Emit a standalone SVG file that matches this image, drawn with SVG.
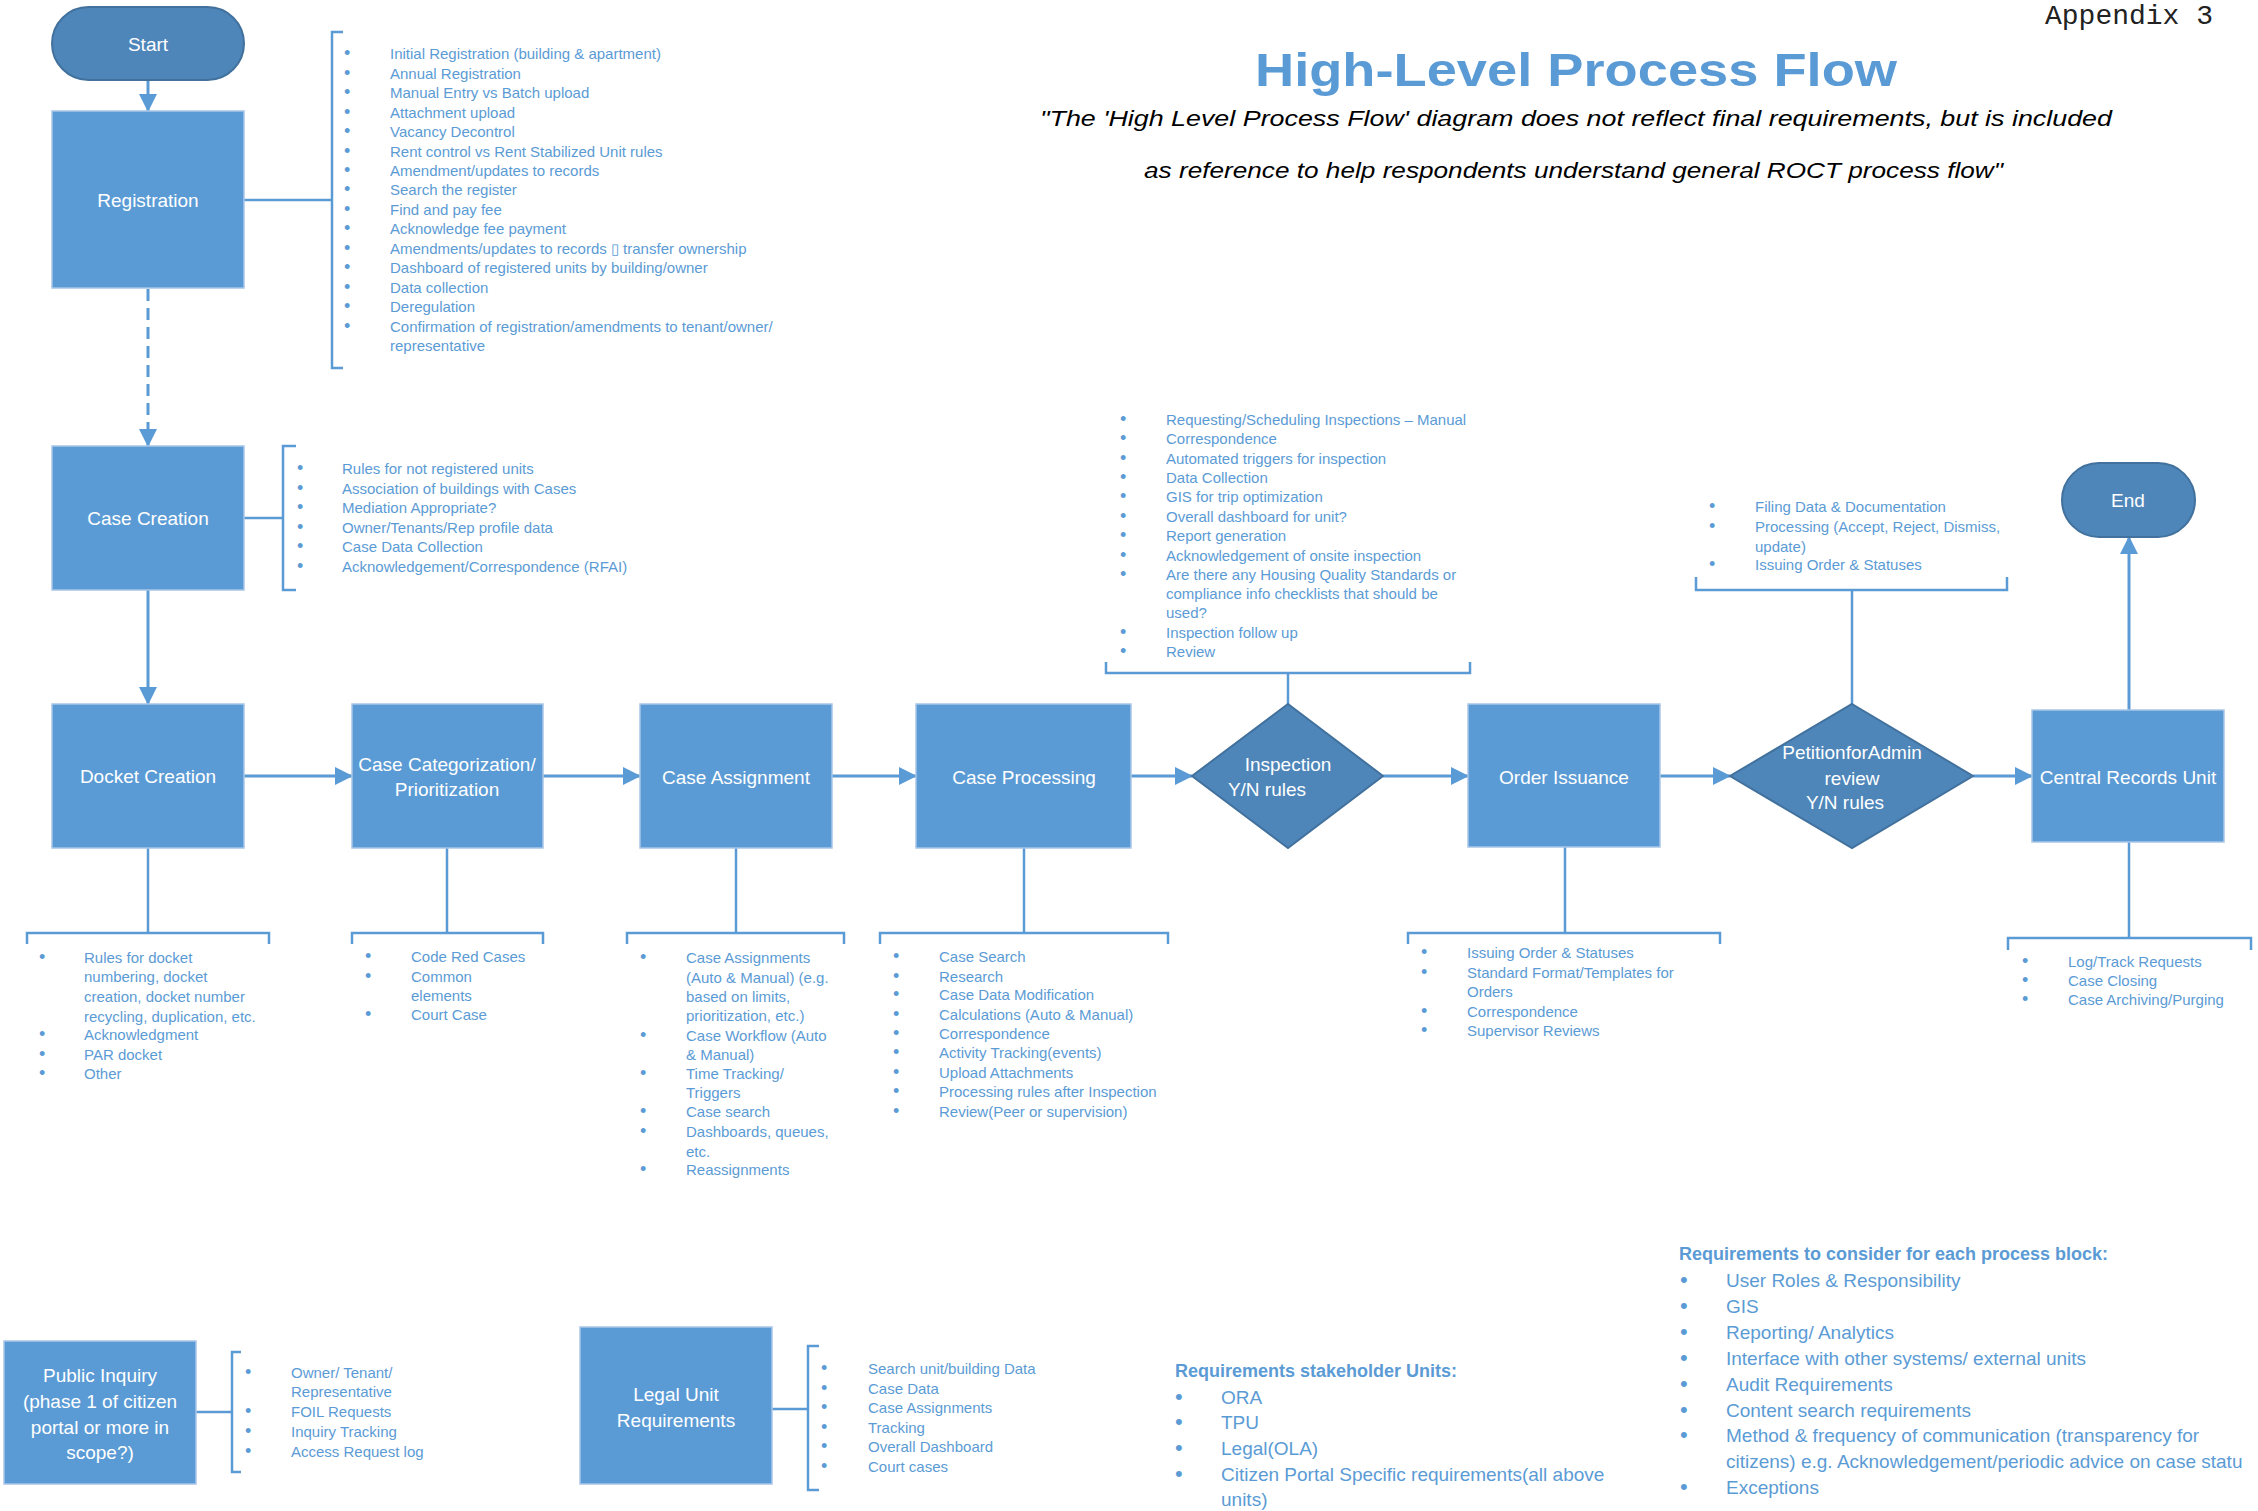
<svg xmlns="http://www.w3.org/2000/svg" width="2258" height="1511" viewBox="0 0 2258 1511">
<defs>
<style>
.box{fill:#5B9BD5;stroke:#A9C6E8;stroke-width:1.5}
.term{fill:#4E86BA;stroke:#41719C;stroke-width:2}
.lbl{font-family:"Liberation Sans",Arial,sans-serif;font-size:19px;fill:#FFFFFF;text-anchor:middle}
.li{font-family:"Liberation Sans",Arial,sans-serif;font-size:15px;fill:#5B9BD5}
.lib{font-family:"Liberation Sans",Arial,sans-serif;font-size:19px;fill:#5B9BD5}
.li .b{font-size:18px}
.lib .b{font-size:22px}
.hd{font-family:"Liberation Sans",Arial,sans-serif;font-size:18px;font-weight:bold;fill:#5B9BD5}
.conn{stroke:#5B9BD5;stroke-width:3;fill:none}
.br{stroke:#5B9BD5;stroke-width:2.5;fill:none}
</style>
<marker id="ah" markerUnits="userSpaceOnUse" markerWidth="18" markerHeight="18" refX="17" refY="9" orient="auto">
<path d="M0,0 L18,9 L0,18 z" fill="#5B9BD5"/>
</marker>
</defs>
<rect width="2258" height="1511" fill="#FFFFFF"/>

<g id="header">
<text x="2045" y="24" font-family="'Liberation Mono','Courier New',monospace" font-size="28" fill="#222">Appendix 3</text>
<text x="1255" y="86" font-family="'Liberation Sans',Arial,sans-serif" font-size="46" font-weight="bold" fill="#5B9BD5" textLength="642" lengthAdjust="spacingAndGlyphs">High-Level Process Flow</text>
<text x="1040" y="126" font-family="'Liberation Sans',Arial,sans-serif" font-size="22" font-style="italic" fill="#000" textLength="1072" lengthAdjust="spacingAndGlyphs">"The 'High Level Process Flow' diagram does not reflect final requirements, but  is included</text>
<text x="1144" y="178" font-family="'Liberation Sans',Arial,sans-serif" font-size="22" font-style="italic" fill="#000" textLength="859" lengthAdjust="spacingAndGlyphs">as reference to help respondents understand general ROCT process flow"</text>
</g>

<g id="connectors">
<line class="conn" x1="148" y1="80" x2="148" y2="111" marker-end="url(#ah)"/>
<line class="conn" x1="148" y1="289" x2="148" y2="446" stroke-dasharray="12 7" marker-end="url(#ah)"/>
<line class="conn" x1="148" y1="590" x2="148" y2="704" marker-end="url(#ah)"/>
<line class="conn" x1="244" y1="776" x2="352" y2="776" marker-end="url(#ah)"/>
<line class="conn" x1="543" y1="776" x2="640" y2="776" marker-end="url(#ah)"/>
<line class="conn" x1="832" y1="776" x2="916" y2="776" marker-end="url(#ah)"/>
<line class="conn" x1="1131" y1="776" x2="1192" y2="776" marker-end="url(#ah)"/>
<line class="conn" x1="1383" y1="776" x2="1468" y2="776" marker-end="url(#ah)"/>
<line class="conn" x1="1660" y1="776" x2="1730" y2="776" marker-end="url(#ah)"/>
<line class="conn" x1="1973" y1="776" x2="2032" y2="776" marker-end="url(#ah)"/>
<line class="conn" x1="2129" y1="710" x2="2129" y2="537" marker-end="url(#ah)"/>
<line class="br" x1="244" y1="200" x2="332" y2="200"/>
<line class="br" x1="244" y1="518" x2="283" y2="518"/>
<line class="br" x1="1288" y1="673" x2="1288" y2="704"/>
<line class="br" x1="1852" y1="590" x2="1852" y2="704"/>
<line class="br" x1="148" y1="848" x2="148" y2="933"/>
<line class="br" x1="447" y1="848" x2="447" y2="933"/>
<line class="br" x1="736" y1="848" x2="736" y2="933"/>
<line class="br" x1="1024" y1="848" x2="1024" y2="933"/>
<line class="br" x1="1565" y1="847" x2="1565" y2="933"/>
<line class="br" x1="2129" y1="842" x2="2129" y2="938"/>
<line class="br" x1="196" y1="1412" x2="232" y2="1412"/>
<line class="br" x1="772" y1="1409" x2="808" y2="1409"/>
<path class="br" d="M343,32 H332 V368 H343"/>
<path class="br" d="M296,446 H283 V590 H296"/>
<path class="br" d="M1106,662 V673 H1470 V662"/>
<path class="br" d="M1696,577 V590 H2007 V577"/>
<path class="br" d="M27,944 V933 H269 V944"/>
<path class="br" d="M352,944 V933 H543 V944"/>
<path class="br" d="M627,944 V933 H844 V944"/>
<path class="br" d="M880,944 V933 H1168 V944"/>
<path class="br" d="M1408,944 V933 H1720 V944"/>
<path class="br" d="M2008,950 V938 H2251 V950"/>
<path class="br" d="M241,1352 H232 V1472 H241"/>
<path class="br" d="M819,1346 H808 V1490 H819"/>
</g>

<g id="start">
<rect class="term" x="52" y="7" width="192" height="73" rx="36.5"/>
<text class="lbl" x="148" y="51">Start</text>
</g>

<g id="registration">
<rect class="box" x="52" y="111" width="192" height="177"/>
<text class="lbl" x="148" y="207">Registration</text>
</g>

<g id="registration-list">
<text class="li">
<tspan class="b" x="344" y="59">•</tspan><tspan x="390" y="59">Initial Registration (building &amp; apartment)</tspan>
<tspan class="b" x="344" y="79">•</tspan><tspan x="390" y="79">Annual Registration</tspan>
<tspan class="b" x="344" y="98">•</tspan><tspan x="390" y="98">Manual Entry vs Batch upload</tspan>
<tspan class="b" x="344" y="118">•</tspan><tspan x="390" y="118">Attachment upload</tspan>
<tspan class="b" x="344" y="137">•</tspan><tspan x="390" y="137">Vacancy Decontrol</tspan>
<tspan class="b" x="344" y="157">•</tspan><tspan x="390" y="157">Rent control vs Rent Stabilized Unit rules</tspan>
<tspan class="b" x="344" y="176">•</tspan><tspan x="390" y="176">Amendment/updates to records</tspan>
<tspan class="b" x="344" y="195">•</tspan><tspan x="390" y="195">Search the register</tspan>
<tspan class="b" x="344" y="215">•</tspan><tspan x="390" y="215">Find and pay fee</tspan>
<tspan class="b" x="344" y="234">•</tspan><tspan x="390" y="234">Acknowledge fee payment</tspan>
<tspan class="b" x="344" y="254">•</tspan><tspan x="390" y="254">Amendments/updates to records ▯ transfer ownership</tspan>
<tspan class="b" x="344" y="273">•</tspan><tspan x="390" y="273">Dashboard of registered units by building/owner</tspan>
<tspan class="b" x="344" y="293">•</tspan><tspan x="390" y="293">Data collection</tspan>
<tspan class="b" x="344" y="312">•</tspan><tspan x="390" y="312">Deregulation</tspan>
<tspan class="b" x="344" y="332">•</tspan><tspan x="390" y="332">Confirmation of registration/amendments  to tenant/owner/</tspan>
<tspan x="390" y="351">representative</tspan>
</text>
</g>

<g id="case-creation">
<rect class="box" x="52" y="446" width="192" height="144"/>
<text class="lbl" x="148" y="525">Case Creation</text>
</g>

<g id="case-creation-list">
<text class="li">
<tspan class="b" x="297" y="474">•</tspan><tspan x="342" y="474">Rules for not registered units</tspan>
<tspan class="b" x="297" y="494">•</tspan><tspan x="342" y="494">Association of buildings with Cases</tspan>
<tspan class="b" x="297" y="513">•</tspan><tspan x="342" y="513">Mediation Appropriate?</tspan>
<tspan class="b" x="297" y="533">•</tspan><tspan x="342" y="533">Owner/Tenants/Rep profile data</tspan>
<tspan class="b" x="297" y="552">•</tspan><tspan x="342" y="552">Case Data Collection</tspan>
<tspan class="b" x="297" y="572">•</tspan><tspan x="342" y="572">Acknowledgement/Correspondence (RFAI)</tspan>
</text>
</g>

<g id="docket-creation">
<rect class="box" x="52" y="704" width="192" height="144"/>
<text class="lbl" x="148" y="783">Docket Creation</text>
</g>
<g id="docket-list">
<text class="li">
<tspan class="b" x="39" y="963">•</tspan><tspan x="84" y="963">Rules for docket</tspan>
<tspan x="84" y="982">numbering, docket</tspan>
<tspan x="84" y="1002">creation, docket number</tspan>
<tspan x="84" y="1022">recycling, duplication, etc.</tspan>
<tspan class="b" x="39" y="1040">•</tspan><tspan x="84" y="1040">Acknowledgment</tspan>
<tspan class="b" x="39" y="1060">•</tspan><tspan x="84" y="1060">PAR docket</tspan>
<tspan class="b" x="39" y="1079">•</tspan><tspan x="84" y="1079">Other</tspan>
</text>
</g>

<g id="case-categorization">
<rect class="box" x="352" y="704" width="191" height="144"/>
<text class="lbl" x="447" y="771">Case Categorization/</text>
<text class="lbl" x="447" y="796">Prioritization</text>
</g>
<g id="categorization-list">
<text class="li">
<tspan class="b" x="365" y="962">•</tspan><tspan x="411" y="962">Code Red Cases</tspan>
<tspan class="b" x="365" y="982">•</tspan><tspan x="411" y="982">Common</tspan>
<tspan x="411" y="1001">elements</tspan>
<tspan class="b" x="365" y="1020">•</tspan><tspan x="411" y="1020">Court Case</tspan>
</text>
</g>

<g id="case-assignment">
<rect class="box" x="640" y="704" width="192" height="144"/>
<text class="lbl" x="736" y="784">Case Assignment</text>
</g>
<g id="assignment-list">
<text class="li">
<tspan class="b" x="640" y="963">•</tspan><tspan x="686" y="963">Case Assignments</tspan>
<tspan x="686" y="983">(Auto &amp; Manual) (e.g.</tspan>
<tspan x="686" y="1002">based on limits,</tspan>
<tspan x="686" y="1021">prioritization, etc.)</tspan>
<tspan class="b" x="640" y="1041">•</tspan><tspan x="686" y="1041">Case Workflow (Auto</tspan>
<tspan x="686" y="1060">&amp; Manual)</tspan>
<tspan class="b" x="640" y="1079">•</tspan><tspan x="686" y="1079">Time Tracking/</tspan>
<tspan x="686" y="1098">Triggers</tspan>
<tspan class="b" x="640" y="1117">•</tspan><tspan x="686" y="1117">Case search</tspan>
<tspan class="b" x="640" y="1137">•</tspan><tspan x="686" y="1137">Dashboards, queues,</tspan>
<tspan x="686" y="1157">etc.</tspan>
<tspan class="b" x="640" y="1175">•</tspan><tspan x="686" y="1175">Reassignments</tspan>
</text>
</g>

<g id="case-processing">
<rect class="box" x="916" y="704" width="215" height="144"/>
<text class="lbl" x="1024" y="784">Case Processing</text>
</g>
<g id="processing-list">
<text class="li">
<tspan class="b" x="893" y="962">•</tspan><tspan x="939" y="962">Case Search</tspan>
<tspan class="b" x="893" y="982">•</tspan><tspan x="939" y="982">Research</tspan>
<tspan class="b" x="893" y="1000">•</tspan><tspan x="939" y="1000">Case Data Modification</tspan>
<tspan class="b" x="893" y="1020">•</tspan><tspan x="939" y="1020">Calculations (Auto &amp; Manual)</tspan>
<tspan class="b" x="893" y="1039">•</tspan><tspan x="939" y="1039">Correspondence</tspan>
<tspan class="b" x="893" y="1058">•</tspan><tspan x="939" y="1058">Activity Tracking(events)</tspan>
<tspan class="b" x="893" y="1078">•</tspan><tspan x="939" y="1078">Upload Attachments</tspan>
<tspan class="b" x="893" y="1097">•</tspan><tspan x="939" y="1097">Processing rules after Inspection</tspan>
<tspan class="b" x="893" y="1117">•</tspan><tspan x="939" y="1117">Review(Peer or supervision)</tspan>
</text>
</g>

<g id="inspection">
<polygon class="term" points="1288,704 1383,776 1288,848 1192,776"/>
<text class="lbl" x="1288" y="771">Inspection</text>
<text class="lbl" x="1267" y="796">Y/N rules</text>
</g>
<g id="inspection-list">
<text class="li">
<tspan class="b" x="1120" y="425">•</tspan><tspan x="1166" y="425">Requesting/Scheduling Inspections – Manual</tspan>
<tspan class="b" x="1120" y="444">•</tspan><tspan x="1166" y="444">Correspondence</tspan>
<tspan class="b" x="1120" y="464">•</tspan><tspan x="1166" y="464">Automated triggers for inspection</tspan>
<tspan class="b" x="1120" y="483">•</tspan><tspan x="1166" y="483">Data Collection</tspan>
<tspan class="b" x="1120" y="502">•</tspan><tspan x="1166" y="502">GIS  for trip optimization</tspan>
<tspan class="b" x="1120" y="522">•</tspan><tspan x="1166" y="522">Overall dashboard for unit?</tspan>
<tspan class="b" x="1120" y="541">•</tspan><tspan x="1166" y="541">Report generation</tspan>
<tspan class="b" x="1120" y="561">•</tspan><tspan x="1166" y="561">Acknowledgement of onsite inspection</tspan>
<tspan class="b" x="1120" y="580">•</tspan><tspan x="1166" y="580">Are there any Housing Quality Standards or</tspan>
<tspan x="1166" y="599">compliance info checklists that should be</tspan>
<tspan x="1166" y="618">used?</tspan>
<tspan class="b" x="1120" y="638">•</tspan><tspan x="1166" y="638">Inspection follow up</tspan>
<tspan class="b" x="1120" y="657">•</tspan><tspan x="1166" y="657">Review</tspan>
</text>
</g>

<g id="order-issuance">
<rect class="box" x="1468" y="704" width="192" height="143"/>
<text class="lbl" x="1564" y="784">Order Issuance</text>
</g>
<g id="order-list">
<text class="li">
<tspan class="b" x="1421" y="958">•</tspan><tspan x="1467" y="958">Issuing Order &amp; Statuses</tspan>
<tspan class="b" x="1421" y="978">•</tspan><tspan x="1467" y="978">Standard Format/Templates for</tspan>
<tspan x="1467" y="997">Orders</tspan>
<tspan class="b" x="1421" y="1017">•</tspan><tspan x="1467" y="1017">Correspondence</tspan>
<tspan class="b" x="1421" y="1036">•</tspan><tspan x="1467" y="1036">Supervisor Reviews</tspan>
</text>
</g>

<g id="petition">
<polygon class="term" points="1852,704 1973,776 1852,848 1730,776"/>
<text class="lbl" x="1852" y="759">PetitionforAdmin</text>
<text class="lbl" x="1852" y="785">review</text>
<text class="lbl" x="1845" y="809">Y/N rules</text>
</g>
<g id="petition-list">
<text class="li">
<tspan class="b" x="1709" y="512">•</tspan><tspan x="1755" y="512">Filing Data &amp; Documentation</tspan>
<tspan class="b" x="1709" y="532">•</tspan><tspan x="1755" y="532">Processing (Accept, Reject, Dismiss,</tspan>
<tspan x="1755" y="552">update)</tspan>
<tspan class="b" x="1709" y="570">•</tspan><tspan x="1755" y="570">Issuing Order &amp; Statuses</tspan>
</text>
</g>

<g id="central-records">
<rect class="box" x="2032" y="710" width="192" height="132"/>
<text class="lbl" x="2128" y="784">Central Records Unit</text>
</g>
<g id="central-list">
<text class="li">
<tspan class="b" x="2022" y="967">•</tspan><tspan x="2068" y="967">Log/Track Requests</tspan>
<tspan class="b" x="2022" y="986">•</tspan><tspan x="2068" y="986">Case Closing</tspan>
<tspan class="b" x="2022" y="1005">•</tspan><tspan x="2068" y="1005">Case Archiving/Purging</tspan>
</text>
</g>

<g id="end">
<rect class="term" x="2062" y="463" width="133" height="74" rx="37"/>
<text class="lbl" x="2128" y="507">End</text>
</g>

<g id="public-inquiry">
<rect class="box" x="4" y="1341" width="192" height="143"/>
<text class="lbl" x="100" y="1382">Public Inquiry</text>
<text class="lbl" x="100" y="1408">(phase 1 of citizen</text>
<text class="lbl" x="100" y="1434">portal or more in</text>
<text class="lbl" x="100" y="1459">scope?)</text>
</g>
<g id="public-list">
<text class="li">
<tspan class="b" x="245" y="1378">•</tspan><tspan x="291" y="1378">Owner/ Tenant/</tspan>
<tspan x="291" y="1397">Representative</tspan>
<tspan class="b" x="245" y="1417">•</tspan><tspan x="291" y="1417">FOIL Requests</tspan>
<tspan class="b" x="245" y="1437">•</tspan><tspan x="291" y="1437">Inquiry Tracking</tspan>
<tspan class="b" x="245" y="1457">•</tspan><tspan x="291" y="1457">Access Request log</tspan>
</text>
</g>

<g id="legal-unit">
<rect class="box" x="580" y="1327" width="192" height="157"/>
<text class="lbl" x="676" y="1401">Legal Unit</text>
<text class="lbl" x="676" y="1427">Requirements</text>
</g>
<g id="legal-list">
<text class="li">
<tspan class="b" x="821" y="1374">•</tspan><tspan x="868" y="1374">Search unit/building  Data</tspan>
<tspan class="b" x="821" y="1394">•</tspan><tspan x="868" y="1394">Case Data</tspan>
<tspan class="b" x="821" y="1413">•</tspan><tspan x="868" y="1413">Case Assignments</tspan>
<tspan class="b" x="821" y="1433">•</tspan><tspan x="868" y="1433">Tracking</tspan>
<tspan class="b" x="821" y="1452">•</tspan><tspan x="868" y="1452">Overall Dashboard</tspan>
<tspan class="b" x="821" y="1472">•</tspan><tspan x="868" y="1472">Court cases</tspan>
</text>
</g>

<g id="stakeholder-units">
<text class="hd" x="1175" y="1377">Requirements stakeholder Units:</text>
<text class="lib">
<tspan class="b" x="1175" y="1404">•</tspan><tspan x="1221" y="1404">ORA</tspan>
<tspan class="b" x="1175" y="1429">•</tspan><tspan x="1221" y="1429">TPU</tspan>
<tspan class="b" x="1175" y="1455">•</tspan><tspan x="1221" y="1455">Legal(OLA)</tspan>
<tspan class="b" x="1175" y="1481">•</tspan><tspan x="1221" y="1481">Citizen Portal Specific requirements(all above</tspan>
<tspan x="1221" y="1506">units)</tspan>
</text>
</g>

<g id="process-block-requirements">
<text class="hd" x="1679" y="1260">Requirements to consider for each process block:</text>
<text class="lib">
<tspan class="b" x="1680" y="1287">•</tspan><tspan x="1726" y="1287">User Roles &amp; Responsibility</tspan>
<tspan class="b" x="1680" y="1313">•</tspan><tspan x="1726" y="1313">GIS</tspan>
<tspan class="b" x="1680" y="1339">•</tspan><tspan x="1726" y="1339">Reporting/ Analytics</tspan>
<tspan class="b" x="1680" y="1365">•</tspan><tspan x="1726" y="1365">Interface with other systems/ external units</tspan>
<tspan class="b" x="1680" y="1391">•</tspan><tspan x="1726" y="1391">Audit Requirements</tspan>
<tspan class="b" x="1680" y="1417">•</tspan><tspan x="1726" y="1417">Content search requirements</tspan>
<tspan class="b" x="1680" y="1442">•</tspan><tspan x="1726" y="1442">Method &amp; frequency of communication (transparency for</tspan>
<tspan x="1726" y="1468">citizens) e.g. Acknowledgement/periodic advice on case statu</tspan>
<tspan class="b" x="1680" y="1494">•</tspan><tspan x="1726" y="1494">Exceptions</tspan>
</text>
</g>
</svg>
